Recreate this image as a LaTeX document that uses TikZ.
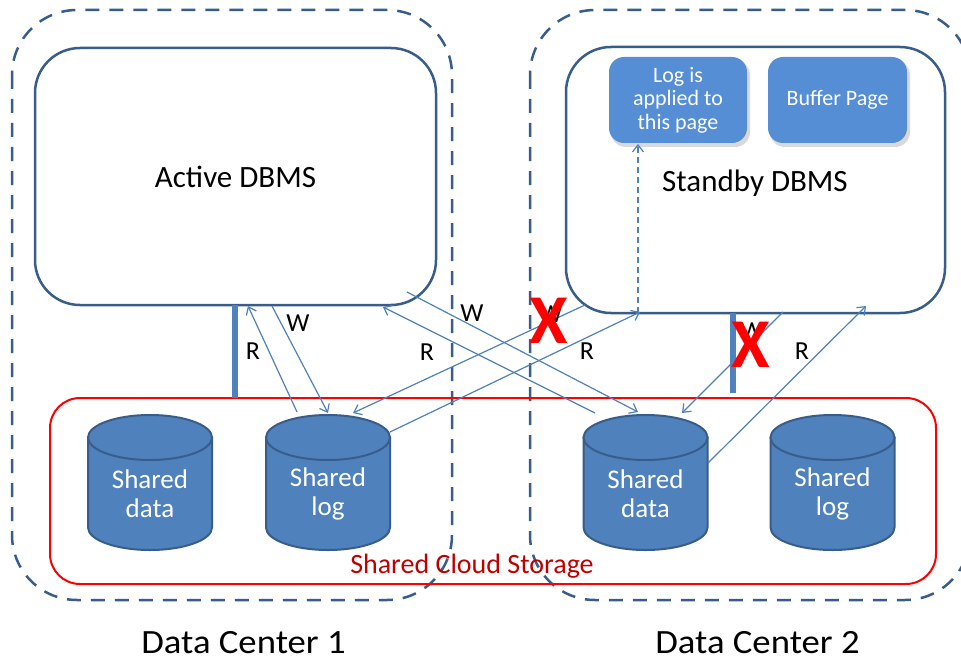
\documentclass[tikz,border=0pt]{standalone}
\usepackage{fontspec}
\setmainfont{Carlito}
\usetikzlibrary{arrows.meta}
\definecolor{dkblue}{RGB}{56,93,138}
\definecolor{midblue}{RGB}{79,129,189}
\definecolor{boxblue}{RGB}{85,142,213}
\definecolor{dkred}{RGB}{192,0,0}
\newcommand\fs[1]{\fontsize{#1}{#1}\selectfont}
\newcommand\mycyl[4]{%
  \fill[midblue,draw=dkblue,line width=2pt] (#2-62,437.5) -- (#2-62,527.5)
    arc[start angle=180,end angle=0,x radius=62,y radius=22.5] -- (#2+62,437.5) -- cycle;
  \draw[dkblue,line width=2pt,fill=midblue] (#2,437.5) ellipse[x radius=62,y radius=22.5];
  \node[text=white,align=center,font=\fontsize{27}{29}\selectfont] (#1) at (#2,494) {#3\\#4};}
\tikzset{
  dcbox/.style={draw=dkblue,line width=2.5pt,dash pattern=on 14pt off 10pt,rounded corners=65pt},
  dbms/.style={draw=dkblue,line width=2.5pt,rounded corners=45pt,fill=white,inner sep=0pt},
  pagebox/.style={fill=boxblue,rounded corners=15pt,inner sep=0pt,minimum width=138pt,minimum height=86pt,text=white,align=center,font=\fontsize{22}{23.5}\selectfont},
  conn/.style={midblue,line width=1.2pt},
  arr/.style={conn,-{Straight Barb[length=7pt,width=11pt,line width=1.2pt]}},
  lbl/.style={font=\fs{26},text=black,inner sep=0pt},
  cross/.style={font=\fontsize{70}{70}\selectfont\bfseries,text=red,inner sep=0pt},
  bar/.style={midblue,line width=6pt},
  dclabel/.style={font=\fs{34},inner sep=0pt,xscale=1.08}
}
\begin{document}
\begin{tikzpicture}[x=1pt,y=-1pt]
\useasboundingbox[fill=white] (0,0) rectangle (961,658);
\clip (0,0) rectangle (961,658);
% data centers
\draw[dcbox] (12,10) rectangle (452,600);
\draw[dcbox] (530,10) rectangle (970,600);
% DBMS boxes
\node[dbms,minimum width=401pt,minimum height=257pt,font=\fs{31}] (active) at (235.5,176.5) {Active DBMS};
\node[dbms,minimum width=379pt,minimum height=266pt] (standby) at (755.5,180) {};
\node[font=\fs{31},inner sep=0pt] (standbylbl) at (755,183) {Standby DBMS};
% page boxes with shadow
\fill[black,opacity=0.15,rounded corners=15pt] (611,60) rectangle (750,147);
\fill[black,opacity=0.15,rounded corners=15pt] (770,60) rectangle (910,147);
\node[pagebox] (logpage) at (678,100) {Log is\\applied to\\this page};
\node[pagebox,minimum width=139pt] (bufpage) at (837.5,100) {Buffer Page};
% storage
\node[draw=red,line width=2pt,rounded corners=30pt,minimum width=886pt,minimum height=186pt,inner sep=0pt] (storage) at (493,491) {};
\node[text=dkred,font=\fs{28},inner sep=0pt] (storagelbl) at (472,566) {Shared Cloud Storage};
% cylinders
\mycyl{data1}{150}{Shared}{data}
\mycyl{log1}{328}{Shared}{log}
\mycyl{data2}{645.5}{Shared}{data}
\mycyl{log2}{832.5}{Shared}{log}
% bars
\coordinate (barLtop) at (235,305);
\coordinate (barLbot) at (235,398);
\coordinate (barRtop) at (733,313);
\coordinate (barRbot) at (733,393);
\draw[bar] (barLtop) -- (barLbot);
\draw[bar] (barRtop) -- (barRbot);
% connector end points
\coordinate (l1a) at (297,412);  \coordinate (ac1) at (248,306);
\coordinate (ac2) at (272,306);  \coordinate (l1b) at (328,413);
\coordinate (d2a) at (595,413);  \coordinate (ac3) at (383,307);
\coordinate (ac4) at (407,292);  \coordinate (d2b) at (638,412);
\coordinate (sb1) at (585,305);  \coordinate (l1c) at (353,413);
\coordinate (l1d) at (390,432);  \coordinate (sb2) at (640,312);
\coordinate (sb3) at (638,313);  \coordinate (lp) at (638,144);
\coordinate (sb4) at (783,312);  \coordinate (d2c) at (682,413);
\coordinate (d2d) at (708,463);  \coordinate (sb5) at (866,306);
\draw[arr] (l1a) -- (ac1);
\draw[arr] (ac2) -- (l1b);
\draw[arr] (d2a) -- (ac3);
\draw[arr] (ac4) -- (d2b);
\draw[arr] (sb1) -- (l1c);
\draw[arr] (l1d) -- (sb2);
\draw[arr,dash pattern=on 6pt off 4pt] (sb3) -- (lp);
\draw[arr] (sb4) -- (d2c);
\draw[arr] (d2d) -- (sb5);
% labels
\node[lbl] (r1) at (253,351) {R};
\node[lbl] (w1) at (298,323) {W};
\node[lbl] (r2) at (427,352) {R};
\node[lbl] (w2) at (472,313) {W};
\node[lbl] (w3) at (551,314) {W};
\node[lbl] (r3) at (587,351) {R};
\node[lbl] (w4) at (752,331) {W};
\node[lbl] (r4) at (802,351) {R};
\node[cross] (x1) at (549,321) {X};
\node[cross] (x2) at (751,345) {X};
% data center labels
\node[dclabel] (dc1) at (243.5,642.5) {Data Center 1};
\node[dclabel] (dc2) at (757.5,642.5) {Data Center 2};
\end{tikzpicture}
\end{document}
